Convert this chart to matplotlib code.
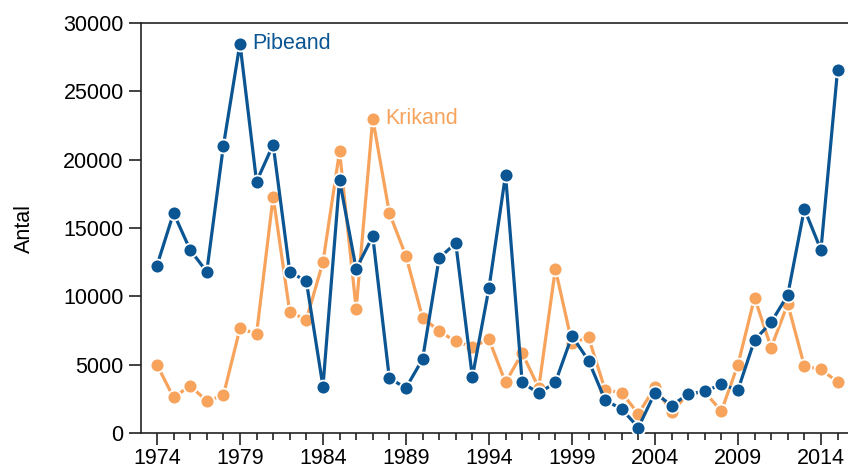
import numpy as np
import matplotlib.pyplot as plt
from matplotlib.ticker import MultipleLocator

plt.rcParams['font.family'] = ['Liberation Sans', 'DejaVu Sans']

years = np.arange(1974, 2016)

pibeand = [12250, 16100, 13400, 11800, 21000, 28500, 18400, 21100, 11800, 11100,
           3400, 18500, 12000, 14400, 4000, 3300, 5400, 12800, 13900, 4100,
           10600, 18900, 3700, 2900, 3700, 7100, 5300, 2400, 1750, 400,
           2950, 2000, 2850, 3050, 3550, 3150, 6800, 8100, 10100, 16400,
           13400, 26550]

krikand = [5000, 2600, 3450, 2350, 2750, 7650, 7250, 17300, 8850, 8300,
           12500, 20600, 9100, 23000, 16100, 12950, 8450, 7450, 6700, 6300,
           6850, 3700, 5850, 3300, 12000, 6600, 7000, 3150, 2950, 1400,
           3350, 1550, 2850, 3000, 1600, 5000, 9900, 6250, 9450, 4900,
           4650, 3750]

blue = '#0a5592'
orange = '#f7a35c'
fs = 15.5

fig = plt.figure(figsize=(8.48, 4.70), dpi=100)
ax = fig.add_axes([0.1663, 0.0787, 0.8337, 0.8723])

ax.plot(years, krikand, '-o', color=orange, lw=2.3, ms=10,
        mec='white', mew=1.3, zorder=2)
ax.plot(years, pibeand, '-o', color=blue, lw=2.3, ms=10,
        mec='white', mew=1.3, zorder=3)

ax.text(1979.75, pibeand[5], 'Pibeand', color=blue, fontsize=fs,
        va='center', ha='left')
ax.text(1987.75, krikand[13], 'Krikand', color=orange, fontsize=fs,
        va='center', ha='left')

ax.set_xlim(1973.04, 2015.63)
ax.set_ylim(0, 30000)
ax.set_xticks(np.arange(1974, 2015, 5))
ax.xaxis.set_minor_locator(MultipleLocator(1))
ax.set_yticks(np.arange(0, 30001, 5000))

ax.spines['right'].set_visible(False)
for s in ['left', 'top', 'bottom']:
    ax.spines[s].set_linewidth(1.2)
    ax.spines[s].set_color('#222222')

ax.tick_params(axis='both', which='major', labelsize=fs, direction='out',
               length=8.5, width=1.2, color='#222222')
ax.tick_params(axis='x', which='minor', direction='out', length=5,
               width=1.2, color='#222222')
ax.tick_params(axis='x', which='major', length=8.5, pad=2.5)
ax.tick_params(axis='y', which='major', pad=4)

ax.set_ylabel('Antal', fontsize=fs, labelpad=20)

fig.savefig('out.png', dpi=100)
